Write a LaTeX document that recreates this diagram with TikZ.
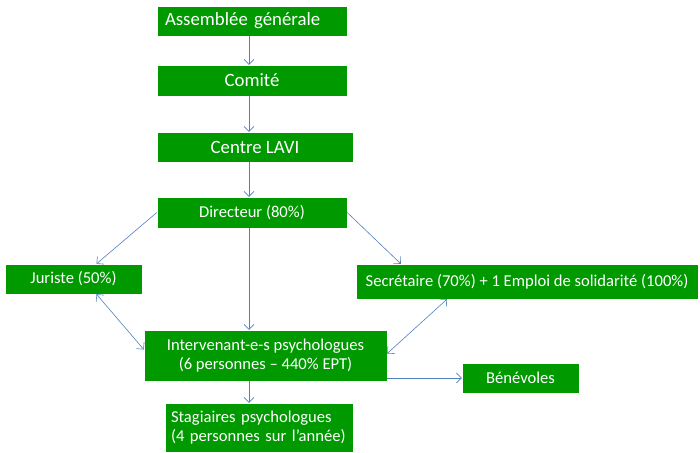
\documentclass[tikz,border=0pt]{standalone}
\usepackage{fontspec}
\setmainfont{Carlito}
\usetikzlibrary{arrows.meta}
\definecolor{boxgreen}{RGB}{0,153,0}
\definecolor{linkblue}{RGB}{79,129,189}
\begin{document}
\begin{tikzpicture}
[
  x=1pt, y=-1pt,
  >={Straight Barb[length=5pt,width=10pt]},
  box/.style={fill=boxgreen,draw=white,text=white,inner sep=0pt,font=\fontsize{16.6}{19}\selectfont},
  big/.style={box,font=\fontsize{18.8}{22}\selectfont},
  link/.style={linkblue,line width=0.6pt}
]

\useasboundingbox (0,0) rectangle (700,452);

\node[big,minimum width=190,minimum height=30,align=left,text width=174] (assemblee) at (252,21) {Assemblée générale};
\node[big,minimum width=190,minimum height=31] (comite) at (252,80.5) {Comité};
\node[big,minimum width=196,minimum height=30] (centre) at (255,147) {Centre LAVI};
\node[box,minimum width=190,minimum height=31] (directeur) at (252,212.5) {Directeur (80\%)};

\node[box,minimum width=137,minimum height=30] (juriste) at (73.5,279) {Juriste (50\%)};
\node[box,minimum width=342,minimum height=35] (secretaire) at (527,281.5) {Secrétaire (70\%) + 1 Emploi de solidarité (100\%)};

\node[box,minimum width=243,minimum height=51,align=center] (intervenant) at (265.5,355.5) {Intervenant-e-s psychologues\\(6 personnes -- 440\% EPT)};
\node[box,minimum width=117,minimum height=30] (benevoles) at (520.5,378) {Bénévoles};
\node[box,minimum width=188,minimum height=49,align=left,text width=176] (stagiaires) at (259,427.5) {Stagiaires psychologues\\(4 personnes sur l’année)};


\draw[->,link] (assemblee.south -| 249,0) -- (comite.north -| 249,0);
\draw[->,link] (comite.south -| 249,0) -- (centre.north -| 249,0);
\draw[->,link] (centre.south -| 249,0) -- (directeur.north -| 249,0);

\draw[->,link] (directeur.west) -- ([xshift=23pt]juriste.north);
\draw[->,link] (directeur.east) -- ([xshift=45pt]secretaire.north west);
\draw[->,link] (directeur.south -| 249,0) -- (intervenant.north -| 249,0);

\draw[<->,link] ([xshift=23pt]juriste.south) -- ([yshift=6pt]intervenant.west);
\draw[<->,link] ([xshift=-80pt]secretaire.south) -- ([yshift=2pt]intervenant.east);

\draw[->,link] (intervenant.east |- benevoles.west) -- (benevoles.west);
\draw[->,link] (intervenant.south -| 249,0) -- (stagiaires.north -| 249,0);

\end{tikzpicture}
\end{document}
